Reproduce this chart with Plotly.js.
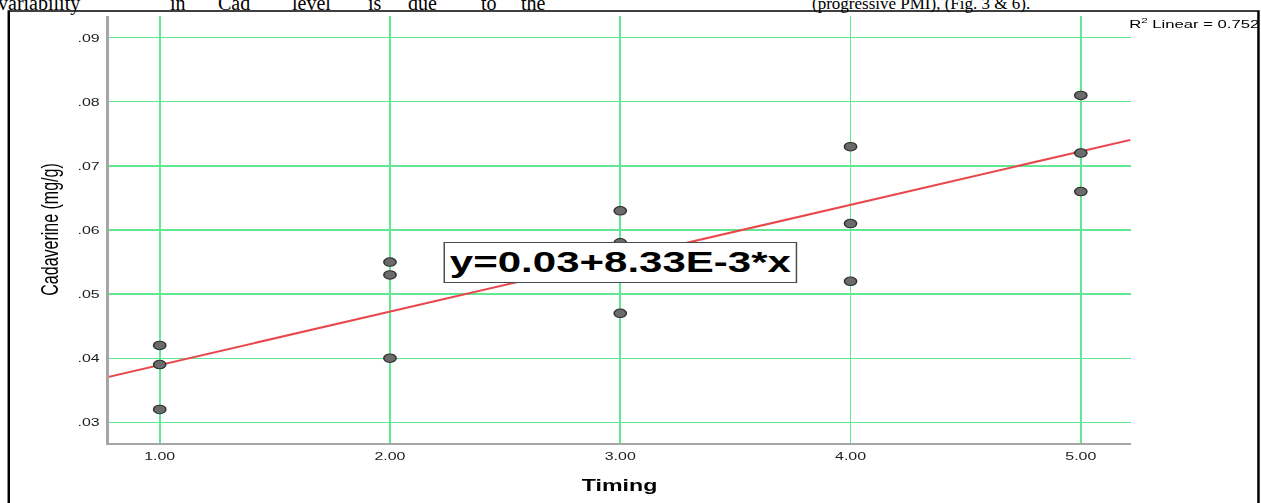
<!DOCTYPE html>
<html><head><meta charset="utf-8">
<script src="https://cdn.plot.ly/plotly-3.0.1.min.js"></script>
<style>
html,body{margin:0;padding:0;background:#fff;overflow:hidden;width:1261px;height:503px;}
#wrap{position:absolute;left:0;top:0;width:870px;height:503px;transform:scaleX(1.4494);transform-origin:0 0;}
#doc{position:absolute;left:0;top:-6px;width:1261px;height:20px;font-family:"Liberation Serif","Times New Roman",serif;font-size:20px;line-height:18px;color:#000;white-space:nowrap;}
#doc span{position:absolute;top:0;}
</style></head><body>
<div id="doc"><span style="left:-2px">variability</span><span style="left:170px">in</span><span style="left:218px">Cad</span><span style="left:292px">level</span><span style="left:368px">is</span><span style="left:408px">due</span><span style="left:481px">to</span><span style="left:521px">the</span><span style="left:812px;font-size:17px;top:1px">(progressive PMI), (Fig. 3 &amp; 6).</span></div>
<div id="wrap"><div id="chart"></div></div>
<script>
const timing = [1,1,1,2,2,2,3,3,3,4,4,4,5,5,5];
const cadaverine = [0.042,0.039,0.032,0.055,0.053,0.040,0.063,0.058,0.047,0.073,0.061,0.052,0.081,0.072,0.066];
const xTickVals = [1,2,3,4,5];
const xTickText = ['1.00','2.00','3.00','4.00','5.00'];
const yTickVals = [0.03,0.04,0.05,0.06,0.07,0.08,0.09];
const yTickText = ['.03','.04','.05','.06','.07','.08','.09'];
const equationText = 'y=0.03+8.33E-3*x';
const r2Text = 'R<sup>2</sup> Linear = 0.752';
const xRange = [0.7786, 5.216];
const yRange = [0.02677, 0.09339];

// least squares fit from the data
const n = timing.length;
const mx = timing.reduce((a,b)=>a+b,0)/n;
const my = cadaverine.reduce((a,b)=>a+b,0)/n;
let sxy=0, sxx=0;
for(let i=0;i<n;i++){sxy+=(timing[i]-mx)*(cadaverine[i]-my);sxx+=(timing[i]-mx)**2;}
const slope = sxy/sxx, intercept = my - slope*mx;
const fitX = [xRange[0], xRange[1]];
const fitY = fitX.map(v=>intercept+slope*v);

const font = '"Liberation Sans", Arial, sans-serif';
const grid = '#62e892';

const traces = [
  {x: fitX, y: fitY, mode:'lines', line:{color:'#e8474b', width:2}, hoverinfo:'skip', showlegend:false},
  {x: timing, y: cadaverine, mode:'markers', marker:{size:8.5, color:'#6b6b6b', line:{color:'#2e2e2e', width:1}}, showlegend:false}
];

const layout = {
  width: 870, height: 503,
  margin: {l:74.5, r:90.4, t:16, b:60},
  paper_bgcolor:'rgba(0,0,0,0)', plot_bgcolor:'#fff',
  font:{family:font, color:'#222', size:11},
  showlegend:false,
  xaxis:{
    range:xRange, tickvals:xTickVals, ticktext:xTickText,
    showgrid:true, gridcolor:grid, gridwidth:1.3, zeroline:false,
    showline:true, linecolor:'#a6a6a6', linewidth:2,
    ticks:'outside', ticklen:2, tickcolor:'rgba(0,0,0,0)',
    tickfont:{size:11, family:font, color:'#222'},
    title:{text:'Timing', font:{size:16, family:font, color:'#000', weight:'bold'}, standoff:19}
  },
  yaxis:{
    range:yRange, tickvals:yTickVals, ticktext:yTickText,
    showgrid:true, gridcolor:grid, gridwidth:1.3, zeroline:false,
    showline:true, linecolor:'#a6a6a6', linewidth:2,
    ticks:'outside', ticklen:2, tickcolor:'rgba(0,0,0,0)',
    tickfont:{size:11, family:font, color:'#222'},
    title:{text:'Cadaverine (mg/g)', font:{size:16, family:font, color:'#000'}, standoff:9}
  },
  annotations:[
    {x:3, y:0.0550, xref:'x', yref:'y', text:equationText, showarrow:false,
     font:{size:29, family:font, color:'#000', weight:'bold'},
     bgcolor:'#fff', bordercolor:'#4a4a4a', borderwidth:1, borderpad:3.3, xanchor:'center', yanchor:'middle'},
    {x:1.0, y:0.9836, xref:'paper', yref:'paper', text:r2Text, showarrow:false,
     font:{size:11.5, family:font, color:'#000'}, xanchor:'left', yanchor:'middle', xshift:-3}
  ],
  shapes:[
    {type:'rect', xref:'paper', yref:'paper', x0:-0.0978, x1:1.1252, y0:-0.3, y1:1.0117,
     line:{color:'#000', width:1.7}, fillcolor:'rgba(0,0,0,0)', layer:'above'}
  ]
};

Plotly.newPlot('chart', traces, layout, {displayModeBar:false, staticPlot:true});
</script>
</body></html>
